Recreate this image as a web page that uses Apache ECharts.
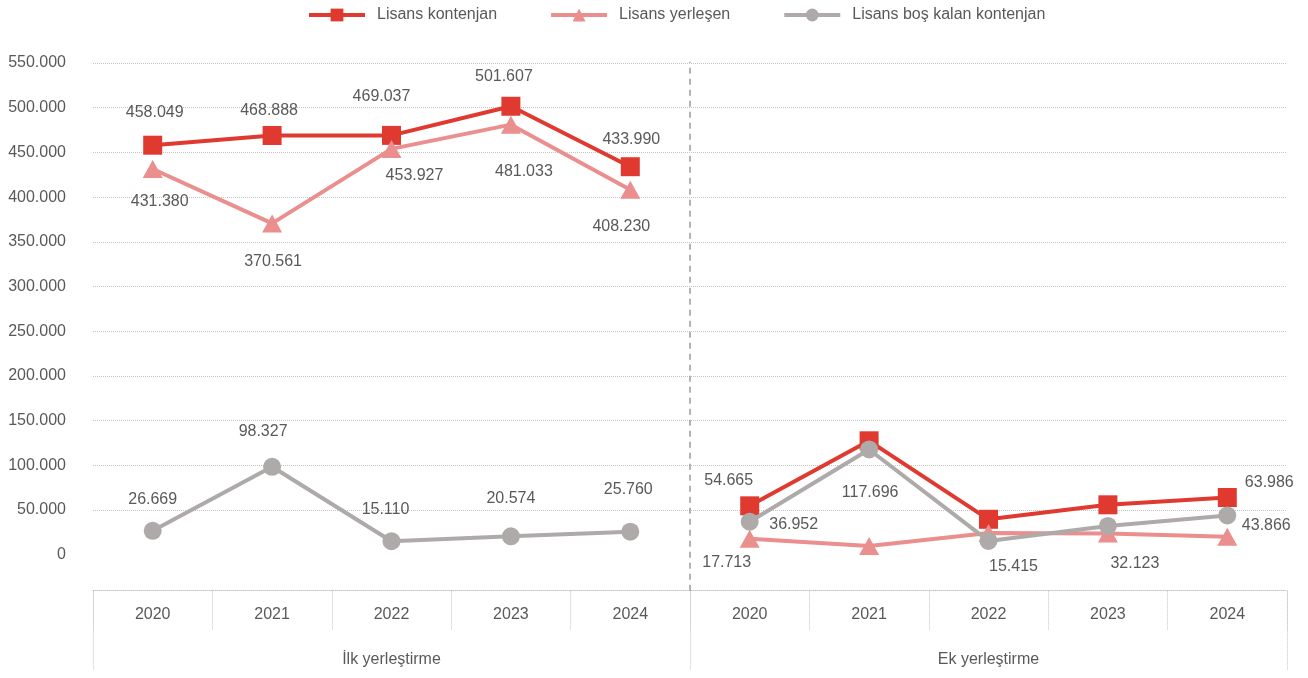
<!DOCTYPE html>
<html>
<head>
<meta charset="utf-8">
<script src="https://cdn.jsdelivr.net/npm/echarts@6/dist/echarts.min.js"></script>
<style>
  html, body { margin: 0; padding: 0; background: #fff; }
  #chart { width: 1308px; height: 678px; }
</style>
</head>
<body>
<div id="chart"></div>
<script>
const YEARS = ["2020", "2021", "2022", "2023", "2024"];
const GROUPS = ["İlk yerleştirme", "Ek yerleştirme"];
const NAMES = ["Lisans kontenjan", "Lisans yerleşen", "Lisans boş kalan kontenjan"];

// İlk yerleştirme
const ilkKontenjan = [458049, 468888, 469037, 501607, 433990];
const ilkYerlesen = [431380, 370561, 453927, 481033, 408230];
const ilkBos = [26669, 98327, 15110, 20574, 25760];

// Ek yerleştirme (unlabelled points)
const ekKontenjan = [54665, 127400, 39600, 55800, 63986];
const ekYerlesen = [17713, 9704, 24185, 23677, 20120];
const ekBos = [36952, 117696, 15415, 32123, 43866];

const Y_MIN = 0, Y_MAX = 550000, Y_STEP = 50000;

// label offsets from the point, null = no label
const OFF_ILK_K = [[2, -33], [-3, -25], [-10, -39], [-7, -30], [1, -27]];
const OFF_ILK_Y = [[7, 33], [1, 38], [23, 27], [13, 47], [-9, 37]];
const OFF_ILK_B = [[0, -31], [-9, -35], [-6, -32], [0, -38], [-2, -42]];
const OFF_EK_K = [[-21, -25], null, null, null, [42, -15]];
const OFF_EK_Y = [[-23, 24], null, null, null, null];
const OFF_EK_B = [[44, 3], [1, 43], [25, 26], [27, 38], [39, 10]];

const FONT = "'Liberation Sans', Arial, sans-serif";
const FS = 16;
const TXT = "#595959";
const GRID_C = "#c4c4c4";
const COLORS = ["#e03a30", "#ea8e8e", "#aeaaa9"];
const SYMBOLS = ["rect", "triangle", "circle"];
const SYM_SIZE = [19, [20, 18], 18];

function fmt(v) {
  return String(v).replace(/\B(?=(\d{3})+(?!\d))/g, ".");
}

function buildSeries(k, values, offsets, side) {
  const pad = YEARS.map(() => null);
  const vals = values.map((v, i) => {
    const off = offsets[i];
    return off ? { value: v, label: { show: true, offset: off } } : { value: v };
  });
  return {
    name: NAMES[k],
    type: "line",
    data: side === 0 ? vals.concat(pad) : pad.concat(vals),
    symbol: SYMBOLS[k],
    symbolSize: SYM_SIZE[k],
    showAllSymbol: true,
    itemStyle: { color: COLORS[k] },
    lineStyle: { color: COLORS[k], width: 4 },
    label: {
      show: false, position: "inside", color: TXT,
      fontFamily: FONT, fontSize: FS,
      formatter: p => fmt(p.value)
    },
    emphasis: { disabled: true },
    z: 2 + k
  };
}

const cats = YEARS.concat(YEARS);
const chart = echarts.init(document.getElementById("chart"));

chart.setOption({
  animation: false,
  textStyle: { fontFamily: FONT },
  legend: {
    data: NAMES,
    left: 302, top: 2,
    itemWidth: 56, itemHeight: 16, itemGap: 52,
    lineStyle: { width: 4 },
    textStyle: { color: TXT, fontSize: FS, fontFamily: FONT, padding: [0, 0, 0, 7] }
  },
  grid: { left: 93, right: 21, top: 63, bottom: 123.3 },
  xAxis: [
    {
      type: "category", data: cats, position: "bottom", offset: 36,
      boundaryGap: true,
      axisLine: { show: true, onZero: false, lineStyle: { color: GRID_C, type: "dotted", width: 1 } },
      axisTick: { show: true, interval: 0, length: 40, lineStyle: { color: GRID_C, type: "dotted" } },
      axisLabel: { interval: 0, margin: 16, color: TXT, fontSize: FS, fontFamily: FONT },
      splitLine: { show: false }
    },
    {
      type: "category", data: GROUPS, position: "bottom", offset: 36,
      boundaryGap: true,
      axisLine: { show: false, onZero: false },
      axisTick: { show: true, interval: 0, length: 80, lineStyle: { color: GRID_C, type: "dotted" } },
      axisLabel: { interval: 0, margin: 61, color: TXT, fontSize: FS, fontFamily: FONT },
      splitLine: { show: false }
    },
    {
      // dashed separator between the two groups
      type: "category", data: ["a", "b", "c"], position: "bottom", offset: 36,
      boundaryGap: false,
      axisLine: { show: false, onZero: false },
      axisLabel: { show: false },
      axisTick: {
        show: true, inside: true, length: 529,
        interval: i => i === 1,
        lineStyle: { color: "#9a9a9a", type: [6, 5], width: 1.5 }
      },
      splitLine: { show: false }
    }
  ],
  yAxis: {
    type: "value", min: Y_MIN, max: Y_MAX, interval: Y_STEP,
    axisLine: { show: false },
    axisTick: { show: false },
    axisLabel: { margin: 27, color: TXT, fontSize: FS, fontFamily: FONT, formatter: v => fmt(v) },
    splitLine: { show: true, showMinLine: false, lineStyle: { color: GRID_C, type: "dotted", width: 1 } }
  },
  series: [
    buildSeries(0, ilkKontenjan, OFF_ILK_K, 0),
    buildSeries(0, ekKontenjan, OFF_EK_K, 1),
    buildSeries(1, ilkYerlesen, OFF_ILK_Y, 0),
    buildSeries(1, ekYerlesen, OFF_EK_Y, 1),
    buildSeries(2, ilkBos, OFF_ILK_B, 0),
    buildSeries(2, ekBos, OFF_EK_B, 1)
  ]
});
</script>
</body>
</html>
